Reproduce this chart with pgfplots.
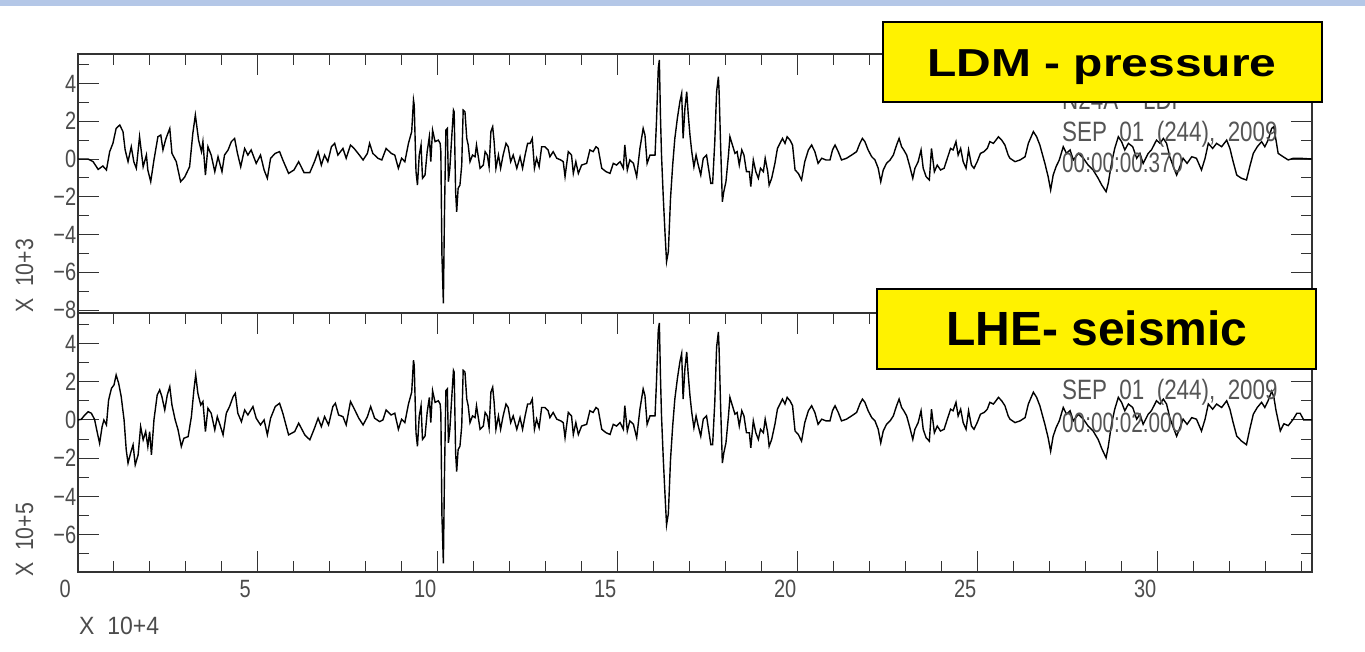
\documentclass[border=0pt]{standalone}
\usepackage{pgfplots}
\pgfplotsset{compat=1.18}
\usepackage{fontspec}
\setmainfont{Liberation Sans}
\definecolor{barblue}{HTML}{B4C7E7}
\definecolor{txtgray}{HTML}{555555}
\pgfplotsset{
  sacaxis/.style={
    scale only axis, width=1234pt, height=259pt,
    xmin=0, xmax=34.28,
    axis line style={line width=1.3pt, black!80},
    tick align=inside,
    major tick length=21pt, minor tick length=11pt,
    every tick/.append style={line width=1pt, black!80},
    xtick={0,5,...,30}, minor xtick={0,1,...,34},
    tick label style={font=\fontsize{25}{25}\selectfont, text=black!70, inner sep=0pt, xscale=0.8},
    yticklabel style={anchor=east, xshift=-2pt},
    ytick pos=both, yticklabel pos=left,
    clip=true,
  }
}
\begin{document}
\begin{tikzpicture}
\useasboundingbox (0pt,0pt) rectangle (1365pt,652pt);
\fill[barblue] (0pt,646pt) rectangle (1365pt,652pt);
% ---------------- top panel: LDM pressure ----------------
\begin{axis}[sacaxis, at={(78pt,339pt)}, anchor=south west,
  ymin=-8.15, ymax=5.56,
  xtick pos=right, xticklabels={},
  ytick={-8,-6,...,4}, yticklabels={−8,−6,−4,−2,0,2,4},
  minor ytick={-8,-7,...,5}]
\addplot[black, line width=1.4pt] coordinates {
(0,0) (0.28,0) (0.42,-0.14) (0.56,-0.55) (0.69,-0.37) (0.79,-0.58) (0.88,0.39) (0.97,0.83) (1.06,1.62) (1.16,1.8) (1.25,1.45) (1.31,0.48) (1.39,-0.14) (1.48,0.65) (1.55,-0.14) (1.62,-0.49) (1.71,1.18) (1.81,-0.41) (1.9,0.21) (1.94,-0.58) (2.02,-1.2) (2.11,-0.05) (2.22,1.18) (2.3,1.27) (2.36,0.48) (2.43,1.0) (2.48,1.27) (2.55,1.62) (2.61,0.3) (2.73,-0.14) (2.85,-1.2) (2.96,-0.97) (3.1,-0.41) (3.19,1.36) (3.26,2.33) (3.35,1.0) (3.43,0.39) (3.47,0.92) (3.54,-0.85) (3.61,0.65) (3.7,0.21) (3.8,-0.67) (3.89,0.12) (4.0,-0.67) (4.07,0.21) (4.17,0.48) (4.26,0.92) (4.35,1.09) (4.43,0.3) (4.52,-0.41) (4.63,0.56) (4.72,0.21) (4.81,0.48) (4.95,-0.23) (5.07,0.21) (5.17,-0.58) (5.26,-1.02) (5.35,0.04) (5.48,0.3) (5.6,0.39) (5.69,-0.05) (5.85,-0.76) (6.0,-0.58) (6.13,-0.14) (6.28,-0.72) (6.44,-0.72) (6.57,-0.14) (6.67,0.39) (6.76,-0.32) (6.85,0.21) (6.94,-0.14) (7.04,0.65) (7.13,0.83) (7.22,0.21) (7.36,0.56) (7.45,0.04) (7.57,0.74) (7.67,0.56) (7.78,0.3) (7.92,-0.05) (8.04,0.3) (8.1,0.83) (8.19,0.3) (8.33,0.04) (8.44,-0.05) (8.56,0.56) (8.7,0.3) (8.8,0.21)
(8.9,-0.49) (8.99,0.04) (9.08,-0.14) (9.18,0.83) (9.27,1.45) (9.32,3.12) (9.34,2.86) (9.39,-0.67) (9.43,-1.38) (9.48,0.21) (9.53,0.74) (9.57,-1.02) (9.64,-0.85) (9.7,0.39) (9.76,1.18) (9.8,-0.14) (9.85,1.53) (9.92,0.92) (10.01,1.0) (10.06,0.83) (10.08,0.39) (10.11,-5.08) (10.15,-7.64) (10.18,-2.96) (10.22,1.53) (10.26,1.62) (10.29,-1.2) (10.33,-0.49) (10.38,1.09) (10.43,2.59) (10.45,2.5) (10.49,-1.73) (10.52,-2.79) (10.56,-1.55) (10.61,-1.38) (10.66,-0.32) (10.7,2.59) (10.75,2.5) (10.8,1.09) (10.84,0.74) (10.89,-0.14) (10.96,0.21) (11.03,0.12) (11.07,0.74) (11.12,0.12) (11.17,-0.49) (11.26,-0.32) (11.31,0.39) (11.37,0.21) (11.42,-0.41) (11.47,1.45) (11.52,1.71) (11.56,0.92) (11.61,-0.49) (11.68,0.21) (11.74,-0.49) (11.81,0.21) (11.89,0.83) (11.95,0.65) (12.02,-0.14) (12.09,0.21) (12.19,-0.49) (12.28,0.12) (12.35,-0.49) (12.42,0.21) (12.49,0.83) (12.56,0.83) (12.62,1.09) (12.68,-0.49) (12.74,0.04) (12.81,-0.41) (12.88,0.65) (12.97,0.65) (13.06,0.48) (13.11,0.12) (13.2,0.39) (13.3,0.04) (13.41,-0.05) (13.48,-0.14) (13.53,-0.93) (13.62,0.39) (13.71,0.21) (13.76,-0.76) (13.83,-0.14) (13.9,-0.76) (13.99,-0.32) (14.13,-0.23) (14.22,0.48) (14.31,0.39) (14.39,0.65) (14.45,0.56) (14.55,-0.49) (14.67,-0.67) (14.78,-0.76) (14.87,-0.23) (14.96,-0.32) (15.06,-0.14) (15.15,-0.49) (15.19,0.74) (15.26,-0.58) (15.33,-0.05) (15.43,-0.23) (15.52,-0.93) (15.61,0.56) (15.7,1.62) (15.75,1.27) (15.81,-0.23) (15.89,0.21) (16.03,0.21) (16.07,1.98) (16.12,4.8) (16.15,5.24) (16.18,2.33) (16.21,0.21) (16.26,-2.08) (16.31,-4.02) (16.35,-5.43) (16.4,-4.9) (16.46,-2.08) (16.52,-0.32) (16.58,1.09) (16.65,2.15) (16.72,3.03) (16.77,3.47) (16.81,1.09) (16.86,2.68) (16.91,3.56) (16.95,2.42) (17.0,1.27) (17.05,0.39) (17.11,-0.41) (17.17,0.21) (17.23,-0.32) (17.3,-0.85) (17.37,0.04) (17.46,0.21)
(17.58,-1.29) (17.63,-1.29) (17.69,0.92) (17.74,3.56) (17.79,4.36) (17.81,3.56) (17.85,0.83) (17.9,-2.26) (17.94,-1.73) (18.0,-1.2) (18.07,0.21) (18.11,1.18) (18.18,0.74) (18.25,0.3) (18.31,0.39) (18.37,-0.32) (18.44,0.48) (18.5,0.21) (18.57,-0.67) (18.65,-0.67) (18.69,-1.46) (18.76,-0.05) (18.83,-0.67) (18.9,-1.02) (18.96,-0.49) (19.04,-0.67) (19.09,0.04) (19.16,-0.67) (19.2,-1.38) (19.27,-1.02) (19.36,-0.23) (19.43,0.56) (19.5,0.83) (19.57,1.09) (19.64,0.83) (19.7,1.18) (19.78,1.0) (19.85,0.74) (19.92,-0.58) (20.01,-0.76) (20.1,-1.11) (20.19,-0.14) (20.29,0.48) (20.38,0.74) (20.47,0.39) (20.56,-0.23) (20.66,0.04) (20.78,-0.05) (20.89,-0.05) (20.96,0.48) (21.03,0.74) (21.12,0.39) (21.21,-0.05) (21.35,0.04) (21.49,0.21) (21.63,0.39) (21.72,0.83) (21.79,1.09) (21.86,0.92) (21.95,0.48) (22.05,0.12) (22.14,-0.05) (22.23,-0.49) (22.3,-1.2) (22.37,-0.58) (22.46,-0.23) (22.56,-0.05) (22.65,0.21) (22.74,0.74) (22.81,1.09) (22.88,0.65) (22.94,0.48) (23.02,0.21) (23.11,-0.41) (23.19,-1.02) (23.25,-0.49) (23.34,-0.14) (23.42,0.48) (23.48,-0.49) (23.56,-0.93) (23.65,-1.11) (23.71,0.56) (23.79,-0.67) (23.87,-0.32) (23.96,-0.58) (24.06,-0.49) (24.15,0.04) (24.24,0.56) (24.31,0.48) (24.39,0.92) (24.45,0.21) (24.52,0.56) (24.59,-0.14) (24.67,-0.49) (24.74,0.48) (24.82,-0.32) (24.89,-0.49) (24.98,-0.14) (25.07,0.3) (25.17,0.39) (25.26,0.56) (25.33,0.92) (25.43,0.83) (25.5,1.0) (25.57,1.18) (25.66,1.0) (25.75,0.74) (25.84,0.21)
(25.89,0.04) (26.03,-0.14) (26.17,-0.05) (26.31,0.12) (26.4,0.83) (26.54,1.45) (26.63,1.18) (26.72,0.74) (26.86,-0.23) (26.95,-0.93) (27.02,-1.64) (27.09,-0.85) (27.17,-0.41) (27.26,-0.05) (27.37,0.65) (27.46,0.3) (27.56,0.48) (27.65,-0.05) (27.79,0.3) (27.93,0.04) (28.06,-0.32) (28.2,-0.58) (28.34,-1.02) (28.44,-1.38) (28.56,-1.73) (28.62,-1.29) (28.71,-0.23) (28.8,0.56) (28.9,1.18) (28.99,0.92) (29.08,0.48) (29.18,0.83) (29.3,0.65) (29.41,0.04) (29.5,0.3) (29.59,-0.23) (29.73,0.3) (29.82,0.48) (29.96,1.0) (30.06,0.83) (30.15,1.09) (30.24,0.83) (30.33,0.12) (30.43,-0.41) (30.52,-0.85) (30.61,-0.41) (30.7,0.04) (30.81,-0.23) (30.94,0.12) (31.07,0.04) (31.21,-0.58) (31.31,0.04) (31.4,0.83) (31.52,0.56) (31.63,0.83) (31.77,0.65) (31.91,1.0) (32.0,0.56) (32.09,-0.14) (32.19,-0.85) (32.32,-1.02) (32.46,-1.11) (32.55,-0.41) (32.65,0.3) (32.76,0.65) (32.88,0.92) (32.97,0.65) (33.06,1.0) (33.16,1.62) (33.22,1.71) (33.28,1.0) (33.34,0.3) (33.48,0.12) (33.62,-0.05) (33.76,0.04) (33.94,0.04) (34.28,0.0)
};
\end{axis}
% ---------------- bottom panel: LHE seismic ----------------
\begin{axis}[sacaxis, at={(78pt,80pt)}, anchor=south west,
  ymin=-7.95, ymax=5.59,
  xtick pos=both, xticklabel pos=left,
  xticklabels={0,5,10,15,20,25,30},
  xticklabel style={anchor=north, xshift=-16pt, yshift=-8pt},
  ytick={-6,-4,...,4}, yticklabels={−6,−4,−2,0,2,4},
  minor ytick={-7,-6,...,5}]
\addplot[black, line width=1.4pt] coordinates {
(0,0) (0.09,0.03) (0.19,0.26) (0.28,0.43) (0.37,0.35) (0.46,0.03) (0.54,-0.7) (0.6,-1.22) (0.67,-0.35) (0.72,0) (0.79,-0.26) (0.85,1.04) (0.93,1.65) (1.0,1.83) (1.06,2.35) (1.13,1.91) (1.2,1.22) (1.28,0) (1.34,-1.57) (1.39,-2.26) (1.46,-1.74) (1.53,-1.3) (1.59,-2.35) (1.67,-1.83) (1.74,-0.35) (1.81,-1.04) (1.88,-0.61) (1.94,-1.39) (1.99,-0.61) (2.04,-1.83) (2.11,0) (2.2,1.3) (2.27,1.57) (2.33,1.22) (2.41,0.52) (2.48,1.3) (2.55,1.74) (2.61,0.78) (2.7,0) (2.78,-0.52) (2.87,-1.39) (2.94,-0.96) (3.06,-0.87) (3.15,0.17) (3.22,1.57) (3.27,2.35) (3.33,1.39) (3.41,0.78) (3.47,0.96) (3.54,-0.61) (3.61,0.61) (3.7,0.35) (3.8,-0.52) (3.87,0.17) (3.96,-0.35) (4.03,-0.78) (4.12,0.35) (4.21,0.7) (4.31,1.22) (4.37,1.39) (4.44,0.35) (4.54,-0.09) (4.63,0.52) (4.72,0.26) (4.86,0.7) (4.95,0.09) (5.07,-0.26) (5.17,0) (5.26,-0.78) (5.35,0.09) (5.48,0.7) (5.6,0.87) (5.69,0.35) (5.85,-0.78) (6.02,-0.61) (6.13,-0.17) (6.3,-0.78) (6.44,-1.04) (6.57,-0.43) (6.67,0.09) (6.76,-0.35) (6.85,0.17) (6.96,-0.26) (7.08,0.7) (7.15,0.87) (7.24,0.26) (7.36,0.17) (7.45,-0.26) (7.57,0.96) (7.69,0.52) (7.8,0.09) (7.92,-0.26) (8.04,0.17) (8.13,0.7) (8.24,0.09) (8.38,-0.09) (8.47,0) (8.56,0.52) (8.7,0.26) (8.8,0.35)
(8.9,-0.49) (8.99,0.04) (9.08,-0.14) (9.18,0.83) (9.27,1.45) (9.32,3.12) (9.34,2.86) (9.39,-0.67) (9.43,-1.38) (9.48,0.21) (9.53,0.74) (9.57,-1.02) (9.64,-0.85) (9.7,0.39) (9.76,1.18) (9.8,-0.14) (9.85,1.53) (9.92,0.92) (10.01,1.0) (10.06,0.83) (10.08,0.39) (10.11,-5.0) (10.15,-7.5) (10.18,-2.96) (10.22,1.53) (10.26,1.62) (10.29,-1.2) (10.33,-0.49) (10.38,1.09) (10.43,2.59) (10.45,2.5) (10.49,-1.73) (10.52,-2.7) (10.56,-1.55) (10.61,-1.38) (10.66,-0.32) (10.7,2.59) (10.75,2.5) (10.8,1.09) (10.84,0.74) (10.89,-0.14) (10.96,0.21) (11.03,0.12) (11.07,0.74) (11.12,0.12) (11.17,-0.49) (11.26,-0.32) (11.31,0.39) (11.37,0.21) (11.42,-0.41) (11.47,1.45) (11.52,1.71) (11.56,0.92) (11.61,-0.49) (11.68,0.21) (11.74,-0.49) (11.81,0.21) (11.89,0.83) (11.95,0.65) (12.02,-0.14) (12.09,0.21) (12.19,-0.49) (12.28,0.12) (12.35,-0.49) (12.42,0.21) (12.49,0.83) (12.56,0.83) (12.62,1.09) (12.68,-0.49) (12.74,0.04) (12.81,-0.41) (12.88,0.65) (12.97,0.65) (13.06,0.48) (13.11,0.12) (13.2,0.39) (13.3,0.04) (13.41,-0.05) (13.48,-0.14) (13.53,-0.93) (13.62,0.39) (13.71,0.21) (13.76,-0.76) (13.83,-0.14) (13.9,-0.76) (13.99,-0.32) (14.13,-0.23) (14.22,0.48) (14.31,0.39) (14.39,0.65) (14.45,0.56) (14.55,-0.49) (14.67,-0.67) (14.78,-0.76) (14.87,-0.23) (14.96,-0.32) (15.06,-0.14) (15.15,-0.49) (15.19,0.74) (15.26,-0.58) (15.33,-0.05) (15.43,-0.23) (15.52,-0.93) (15.61,0.56) (15.7,1.62) (15.75,1.27) (15.81,-0.23) (15.89,0.21) (16.03,0.21) (16.07,1.98) (16.12,4.7) (16.15,5.07) (16.18,2.33) (16.21,0.21) (16.26,-2.08) (16.31,-4.02) (16.35,-5.49) (16.4,-4.9) (16.46,-2.08) (16.52,-0.32) (16.58,1.09) (16.65,2.15) (16.72,3.03) (16.77,3.47) (16.81,1.09) (16.86,2.68) (16.91,3.56) (16.95,2.42) (17.0,1.27) (17.05,0.39) (17.11,-0.41) (17.17,0.21) (17.23,-0.32) (17.3,-0.85) (17.37,0.04) (17.46,0.21)
(17.58,-1.29) (17.63,-1.29) (17.69,0.92) (17.74,3.8) (17.79,4.6) (17.81,3.7) (17.85,0.83) (17.9,-2.26) (17.94,-1.73) (18.0,-1.2) (18.07,0.21) (18.11,1.18) (18.18,0.74) (18.25,0.3) (18.31,0.39) (18.37,-0.32) (18.44,0.48) (18.5,0.21) (18.57,-0.67) (18.65,-0.67) (18.69,-1.46) (18.76,-0.05) (18.83,-0.67) (18.9,-1.02) (18.96,-0.49) (19.04,-0.67) (19.09,0.04) (19.16,-0.67) (19.2,-1.38) (19.27,-1.02) (19.36,-0.23) (19.43,0.56) (19.5,0.83) (19.57,1.09) (19.64,0.83) (19.7,1.18) (19.78,1.0) (19.85,0.74) (19.92,-0.58) (20.01,-0.76) (20.1,-1.11) (20.19,-0.14) (20.29,0.48) (20.38,0.74) (20.47,0.39) (20.56,-0.23) (20.66,0.04) (20.78,-0.05) (20.89,-0.05) (20.96,0.48) (21.03,0.74) (21.12,0.39) (21.21,-0.05) (21.35,0.04) (21.49,0.21) (21.63,0.39) (21.72,0.83) (21.79,1.09) (21.86,0.92) (21.95,0.48) (22.05,0.12) (22.14,-0.05) (22.23,-0.49) (22.3,-1.2) (22.37,-0.58) (22.46,-0.23) (22.56,-0.05) (22.65,0.21) (22.74,0.74) (22.81,1.09) (22.88,0.65) (22.94,0.48) (23.02,0.21) (23.11,-0.41) (23.19,-1.02) (23.25,-0.49) (23.34,-0.14) (23.42,0.48) (23.48,-0.49) (23.56,-0.93) (23.65,-1.11) (23.71,0.56) (23.79,-0.67) (23.87,-0.32) (23.96,-0.58) (24.06,-0.49) (24.15,0.04) (24.24,0.56) (24.31,0.48) (24.39,0.92) (24.45,0.21) (24.52,0.56) (24.59,-0.14) (24.67,-0.49) (24.74,0.48) (24.82,-0.32) (24.89,-0.49) (24.98,-0.14) (25.07,0.3) (25.17,0.39) (25.26,0.56) (25.33,0.92) (25.43,0.83) (25.5,1.0) (25.57,1.18) (25.66,1.0) (25.75,0.74) (25.84,0.21)
(25.89,0.04) (26.03,-0.14) (26.17,-0.05) (26.31,0.12) (26.4,0.83) (26.54,1.45) (26.63,1.18) (26.72,0.74) (26.86,-0.23) (26.95,-0.93) (27.02,-1.64) (27.09,-0.85) (27.17,-0.41) (27.26,-0.05) (27.37,0.65) (27.46,0.3) (27.56,0.48) (27.65,-0.05) (27.79,0.3) (27.93,0.04) (28.06,-0.32) (28.2,-0.58) (28.34,-1.02) (28.44,-1.5) (28.56,-1.98) (28.62,-1.4) (28.71,-0.23) (28.8,0.56) (28.9,1.18) (28.99,0.92) (29.08,0.48) (29.18,0.83) (29.3,0.65) (29.41,0.04) (29.5,0.3) (29.59,-0.23) (29.73,0.3) (29.82,0.48) (29.96,1.0) (30.06,0.83) (30.15,1.09) (30.24,0.83) (30.33,0.12) (30.43,-0.41) (30.52,-0.85) (30.61,-0.41) (30.7,0.04) (30.81,-0.23) (30.94,0.12) (31.07,0.04) (31.21,-0.58) (31.31,0.04) (31.4,0.83) (31.52,0.56) (31.63,0.83) (31.77,0.65) (31.91,1.0) (32.0,0.56) (32.09,-0.14) (32.19,-0.85) (32.32,-1.1) (32.46,-1.3) (32.55,-0.5) (32.65,0.3) (32.76,0.65) (32.88,0.92) (32.97,0.65) (33.06,1.0) (33.16,1.5) (33.22,1.2) (33.28,0.5) (33.4,-0.57) (33.5,-0.2) (33.62,-0.3) (33.76,0.04) (33.86,0.35) (33.95,0.35) (34.05,0.0) (34.28,0.0)
};
\end{axis}
% axis captions
\node[rotate=90, anchor=base west, inner sep=0pt, text=black!70, font=\fontsize{25}{25}\selectfont] at (33pt,339pt) {\scalebox{0.85}[1]{X\ \ 10+3}};
\node[rotate=90, anchor=base west, inner sep=0pt, text=black!70, font=\fontsize{25}{25}\selectfont] at (33pt,75pt) {\scalebox{0.85}[1]{X\ \ 10+5}};
\node[anchor=base west, inner sep=0pt, text=black!70, font=\fontsize{25}{25}\selectfont] at (79pt,17pt) {\scalebox{0.92}[1]{X\ \ 10+4}};
% header texts
\begin{scope}[every node/.style={anchor=base west, inner sep=0pt, text=txtgray, font=\fontsize{28}{28}\selectfont}]
\node at (1062pt,542pt) {\scalebox{0.8}[1]{N24A\ \ \ \ LDF}};
\node at (1062pt,510pt) {\scalebox{0.8}[1]{SEP\ \ 01\ \ (244),\ \ 2009}};
\node at (1062pt,479pt) {\scalebox{0.74}[1]{00:00:00.370}};
\node at (1062pt,252pt) {\scalebox{0.8}[1]{SEP\ \ 01\ \ (244),\ \ 2009}};
\node at (1062pt,219pt) {\scalebox{0.74}[1]{00:00:02.000}};
\end{scope}
% yellow boxes
\filldraw[fill=yellow, draw=black, line width=1.5pt] (883pt,550pt) rectangle (1322pt,630pt);
\node[anchor=base, inner sep=0pt, font=\fontsize{39}{39}\selectfont\bfseries] at (1102pt,575pt) {\scalebox{1.23}[1]{LDM - pressure}};
\filldraw[fill=yellow, draw=black, line width=1.5pt] (877pt,283pt) rectangle (1316pt,363pt);
\node[anchor=base, inner sep=0pt, font=\fontsize{48}{48}\selectfont\bfseries] at (1097pt,306pt) {LHE- seismic};
\end{tikzpicture}
\end{document}
